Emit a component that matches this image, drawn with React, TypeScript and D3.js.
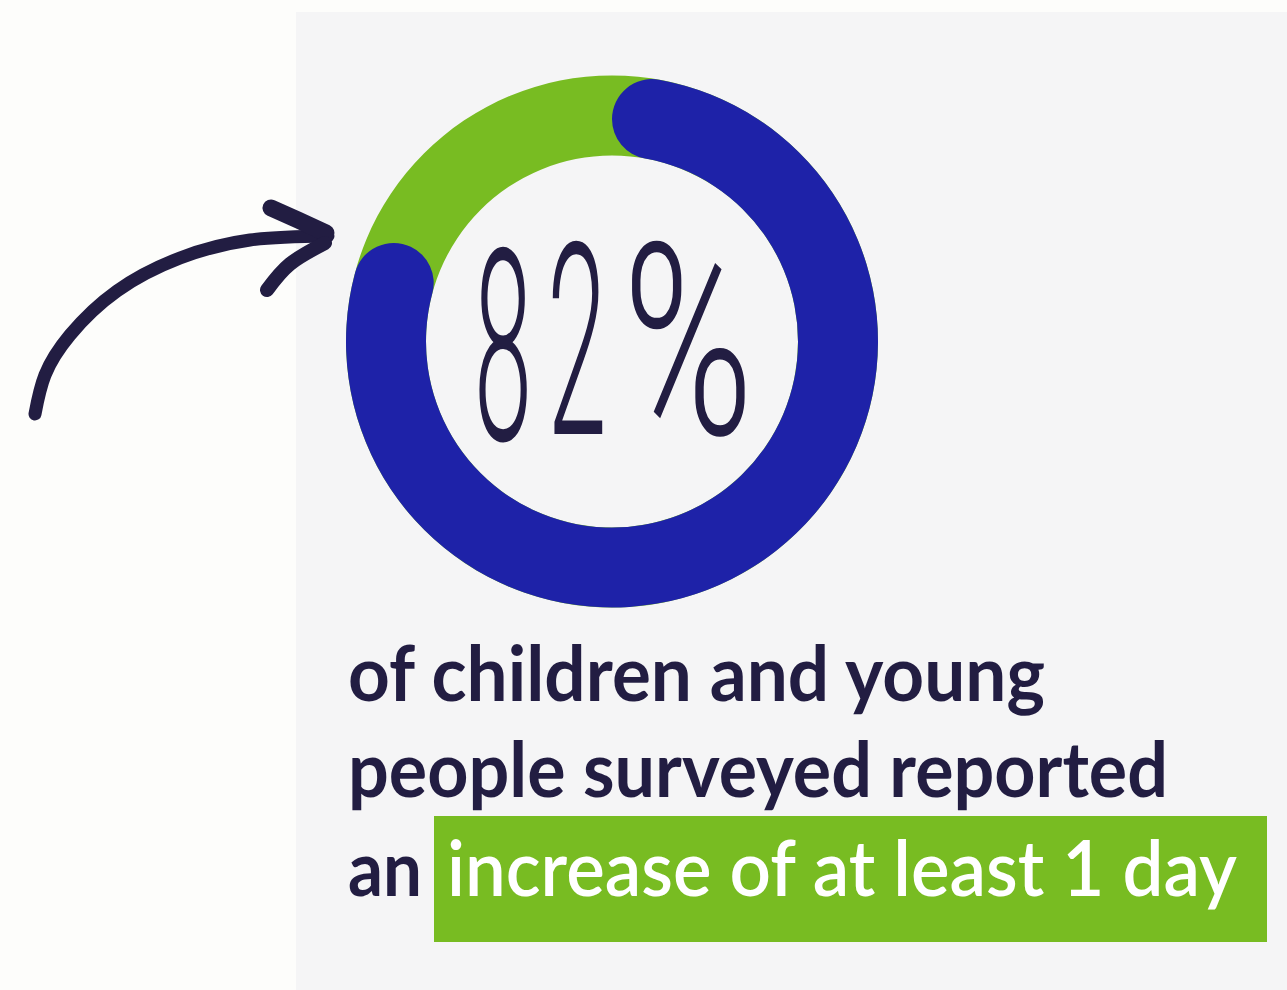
import React from "react";
import * as d3 from "d3";

const W = 1287;
const H = 990;

// data
const shareLabels = ["reported increase", "other"];
const shareValues = [82, 18];
const headlineChars = ["8", "2", "%"];
const captionLines = ["of children and young", "people surveyed reported"];
const captionLead = "an";
const captionHighlight = "increase of at least 1 day";

const arrowShaft: [number, number][] = [
  [35, 414], [45, 375], [70, 335], [117, 291], [180, 258], [250, 240], [328, 236],
];
const arrowBarbTop: [number, number][] = [[271, 208], [298, 220], [326, 233]];
const arrowBarbBottom: [number, number][] = [[267, 290], [290, 264], [325, 243]];

// layout of the headline glyphs [centre x, horizontal scale, baseline]
const headlineBoxes: [number, number, number][] = [[503, 0.39, 440], [577, 0.4, 434], [688, 0.66, 434]];

const NAVY = "#221d42";
const BLUE = "#1e22a8";
const GREEN = "#78bc22";
const PANEL = "#f5f5f6";

export default function App() {
  const cx = 612;
  const cy = 341.5;
  const outer = 266;
  const inner = 186;
  const total = d3.sum(shareValues);
  const angle = d3.scaleLinear().domain([0, total]).range([0, 2 * Math.PI]);

  const track = d3.arc()({ innerRadius: inner, outerRadius: outer, startAngle: 0, endAngle: 2 * Math.PI } as any) as string;
  const valueArc = d3
    .arc()
    .innerRadius(inner)
    .outerRadius(outer)
    .cornerRadius((outer - inner) / 2)({ startAngle: 0, endAngle: angle(shareValues[0]) } as any) as string;

  const line = d3.line().curve(d3.curveNatural);

  return (
    <svg
      width={W}
      height={H}
      style={{ position: "fixed", left: 0, top: 0, display: "block" }}
      viewBox={`0 0 ${W} ${H}`}
    >
      <rect x={0} y={0} width={W} height={H} fill="#fdfdfb" />
      <rect x={296} y={12} width={W - 296} height={H - 12} fill={PANEL} />

      {/* arrow */}
      <g fill="none" stroke={NAVY} strokeLinecap="round" strokeLinejoin="round">
        <path d={line(arrowShaft) as string} strokeWidth={13} />
        <path d={line(arrowBarbTop) as string} strokeWidth={17} />
        <path d={line(arrowBarbBottom) as string} strokeWidth={14} />
      </g>

      {/* donut */}
      <g transform={`translate(${cx},${cy})`}>
        <path d={track} fill={GREEN}>
          <title>{shareLabels[1]}</title>
        </path>
        <path d={valueArc} fill={BLUE}>
          <title>{shareLabels[0]}</title>
        </path>
      </g>

      <g fontFamily="Roboto, sans-serif" fontWeight={300} fontSize={268} fill={NAVY}>
        {headlineChars.map((c, i) => (
          <text
            key={i}
            x={0}
            y={0}
            textAnchor="middle"
            transform={`translate(${headlineBoxes[i][0]},${headlineBoxes[i][2]}) scale(${headlineBoxes[i][1]},1)`}
          >
            {c}
          </text>
        ))}
      </g>

      {/* caption */}
      <g fontFamily="Lato, sans-serif" fontWeight={700} fontSize={76} fill={NAVY}>
        <text x={348} y={701} textLength={697} lengthAdjust="spacingAndGlyphs">
          {captionLines[0]}
        </text>
        <text x={348} y={797} textLength={820} lengthAdjust="spacingAndGlyphs">
          {captionLines[1]}
        </text>
        <text x={348} y={896} textLength={74} lengthAdjust="spacingAndGlyphs">
          {captionLead}
        </text>
      </g>
      <rect x={434} y={816} width={833} height={126} fill={GREEN} />
      <text
        x={447}
        y={896}
        fontFamily="Lato, sans-serif"
        fontWeight={600}
        fontSize={76}
        fill="#ffffff"
        textLength={790}
        lengthAdjust="spacingAndGlyphs"
      >
        {captionHighlight}
      </text>
    </svg>
  );
}
